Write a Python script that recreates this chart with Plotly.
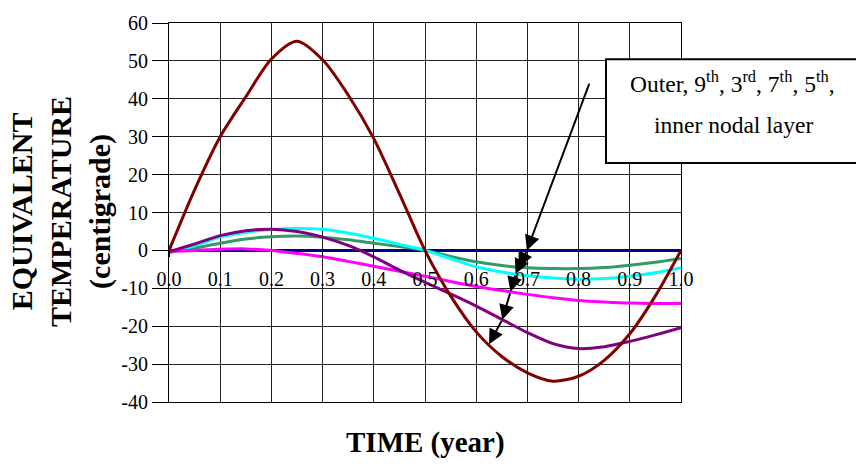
import numpy as np
import plotly.graph_objects as go

# Time over one year (fraction of a year)
time = [0.00, 0.05, 0.10, 0.15, 0.20, 0.25, 0.30, 0.35, 0.40, 0.45, 0.50,
        0.55, 0.60, 0.65, 0.70, 0.75, 0.80, 0.85, 0.90, 0.95, 1.00]

# Equivalent temperature (centigrade) of each nodal layer
outer = [0, 16, 30, 40.5, 50.5, 55.2, 50.3, 41, 29.5, 15, 0,
         -12, -21.5, -28, -32.3, -34.5, -33.2, -29, -22, -12, 0]
layer9 = [-0.4, 1.7, 3.9, 5.2, 5.6, 5.0, 3.5, 1.3, -1.7, -5.2, -8.4,
          -11.5, -14.7, -18.2, -21.7, -24.6, -25.9, -25.4, -24.0, -22.3, -20.4]
layer3 = [-0.3, 0.0, 0.3, 0.4, 0.0, -0.8, -1.7, -2.9, -4.2, -5.5, -6.8,
          -8.2, -9.5, -10.6, -11.6, -12.5, -13.2, -13.6, -13.9, -14.0, -14.0]
layer7 = [-0.7, 1.2, 3.5, 4.8, 5.5, 5.8, 5.6, 4.6, 3.2, 1.6, 0.0,
          -2.2, -4.3, -5.7, -6.7, -7.3, -7.6, -7.4, -6.8, -5.9, -4.6]
layer5 = [-0.5, 0.6, 1.9, 3.0, 3.6, 3.8, 3.5, 2.8, 1.9, 1.0, 0.0,
          -1.6, -3.0, -4.0, -4.6, -4.8, -4.8, -4.5, -3.9, -3.1, -2.1]
inner = [0.0] * len(time)

x_ticks = [0.0, 0.1, 0.2, 0.3, 0.4, 0.5, 0.6, 0.7, 0.8, 0.9, 1.0]
y_ticks = [-40, -30, -20, -10, 0, 10, 20, 30, 40, 50, 60]

# Callout pointer: tail point and the time at which it touches each curve
pointer_tail = (0.822, 44.4)
pointer_times = [0.699, 0.683, 0.677, 0.667, 0.651, 0.625]

FONT = "Liberation Serif, Times New Roman, serif"

# Figure geometry in pixels
W, H = 856, 466
L, R, T, B = 169, 175, 15, 64
PW, PH = W - L - R, H - T - B


def px_x(p):
    return (p - L) / PW


def px_y(p):
    return (H - B - p) / PH


fig = go.Figure()

series = [
    (inner, "#000080", "x"),
    (layer5, "#339966", "x"),
    (layer7, "#00FFFF", "x"),
    (layer3, "#FF00FF", "x"),
    (layer9, "#800080", "x"),
    (outer, "#800000", "x2"),
]
for vals, color, xa in series:
    fig.add_trace(go.Scatter(
        x=time, y=vals, mode="lines", xaxis=xa, yaxis="y",
        line=dict(color=color, width=3, shape="spline", smoothing=0.8),
        hoverinfo="skip", showlegend=False,
    ))

# Chained pointer arrows from the callout down through each curve
curves_in_order = [inner, layer5, layer7, layer3, layer9, outer]
tips = [(t, float(np.interp(t, time, c))) for t, c in zip(pointer_times, curves_in_order)]
prev = pointer_tail
for tip in tips:
    fig.add_annotation(
        x=tip[0], y=tip[1], ax=prev[0], ay=prev[1],
        xref="x", yref="y", axref="x", ayref="y",
        text="", showarrow=True, arrowhead=2, arrowsize=1.5,
        arrowwidth=2, arrowcolor="black", standoff=0,
    )
    prev = tip

# Callout box
fig.add_shape(
    type="rect", xref="paper", yref="paper",
    x0=px_x(606), x1=px_x(866), y0=px_y(158), y1=px_y(52),
    line=dict(color="black", width=2), fillcolor="white", layer="above",
)
fig.add_annotation(
    xref="paper", yref="paper", x=px_x(732), y=px_y(75),
    text="Outer, 9<sup>th</sup>, 3<sup>rd</sup>, 7<sup>th</sup>, 5<sup>th</sup>,",
    showarrow=False, font=dict(family=FONT, size=23.5, color="black"),
    xanchor="center", yanchor="middle",
)
fig.add_annotation(
    xref="paper", yref="paper", x=px_x(733), y=px_y(119),
    text="inner nodal layer",
    showarrow=False, font=dict(family=FONT, size=23.5, color="black"),
    xanchor="center", yanchor="middle",
)

# Axis titles
fig.add_annotation(
    xref="paper", yref="paper", x=0.5, y=px_y(443),
    text="<b>TIME (year)</b>", showarrow=False,
    font=dict(family=FONT, size=29, color="black"),
    xanchor="center", yanchor="middle",
)
fig.add_annotation(
    xref="paper", yref="paper", x=px_x(61), y=px_y(208),
    text="<b>EQUIVALENT<br>TEMPERATURE<br>(centigrade)</b>", showarrow=False,
    textangle=-90, font=dict(family=FONT, size=30, color="black"),
    xanchor="center", yanchor="middle",
)

fig.update_layout(
    width=W, height=H,
    margin=dict(l=L, r=R, t=T, b=B, pad=0),
    paper_bgcolor="white", plot_bgcolor="white",
    font=dict(family=FONT, size=20, color="black"),
    showlegend=False,
    xaxis=dict(
        range=[0, 1], tickvals=x_ticks, showticklabels=False, ticks="",
        showgrid=True, gridcolor="#222", gridwidth=1,
        showline=True, linecolor="black", linewidth=1, mirror=True,
        zeroline=False, fixedrange=True,
    ),
    # category axis drawn across the zero line
    xaxis2=dict(
        range=[0, 1], overlaying="x", anchor="free",
        position=(0 - y_ticks[0]) / (y_ticks[-1] - y_ticks[0]),
        tickvals=x_ticks, ticktext=[f"{v:.1f}" for v in x_ticks],
        ticks="outside", ticklen=6, tickcolor="black", ticklabelstandoff=5,
        tickfont=dict(family=FONT, size=20, color="black"),
        showgrid=False, showline=False, zeroline=False, fixedrange=True,
    ),
    yaxis=dict(
        range=[-40, 60], tickvals=y_ticks, ticktext=[str(v) for v in y_ticks],
        ticks="outside", ticklen=16, tickcolor="black",
        tickfont=dict(family=FONT, size=20, color="black"),
        showgrid=True, gridcolor="#222", gridwidth=1,
        showline=True, linecolor="black", linewidth=1, mirror=True,
        zeroline=False, fixedrange=True,
    ),
)

fig.write_html("out.html")
